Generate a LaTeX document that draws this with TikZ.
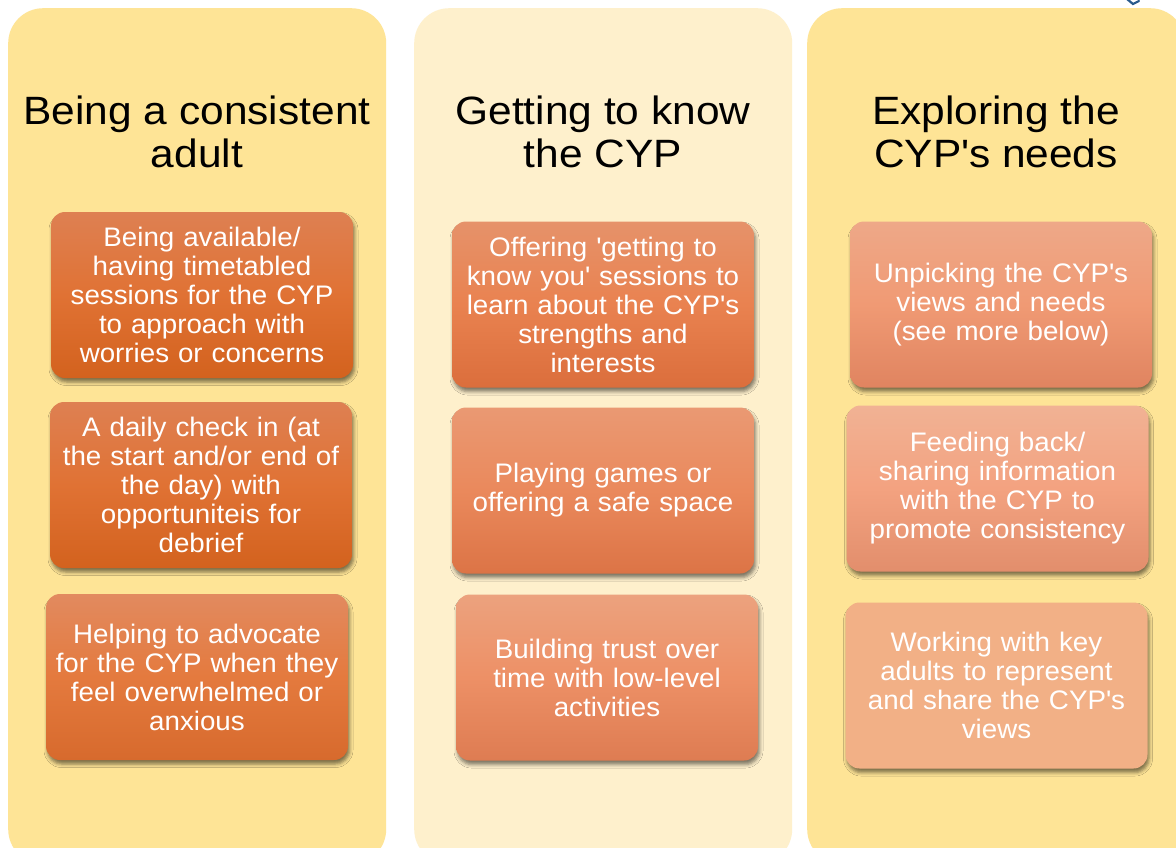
\documentclass[tikz,border=0pt]{standalone}
\usepackage{fontspec}
\setmainfont[FakeStretch=1.075]{Liberation Sans}
\newfontfamily\cardfont[FakeStretch=1.035]{Liberation Sans}
\usetikzlibrary{shadows.blur}

\definecolor{panelgold}{RGB}{254,228,150}
\definecolor{panelcream}{RGB}{254,240,204}
\definecolor{logoblue}{RGB}{40,90,140}

% straight apostrophe
\newcommand{\apos}{\textquotesingle}

\tikzset{
  panel/.style={rounded corners=35pt, anchor=north west, inner sep=0pt},
  heading/.style={font=\fontsize{39.5pt}{43pt}\selectfont, text=black, align=center},
  card/.style={rounded corners=14pt, minimum width=302pt, minimum height=166pt,
    text width=300pt, align=center, inner sep=0pt, text=white,
    font=\cardfont\fontsize{26.8pt}{29pt}\selectfont,
    blur shadow={shadow xshift=1.5pt, shadow yshift=-4pt, shadow blur radius=3.5pt, shadow opacity=50}},
  shadeA/.style={top color={rgb,255:red,222;green,128;blue,82}, bottom color={rgb,255:red,211;green,98;blue,30}, middle color={rgb,255:red,224;green,114;blue,52}},
  shadeB/.style={top color={rgb,255:red,226;green,138;blue,95}, bottom color={rgb,255:red,215;green,106;blue,45}, middle color={rgb,255:red,228;green,122;blue,62}},
  shadeC/.style={top color={rgb,255:red,230;green,146;blue,106}, bottom color={rgb,255:red,219;green,110;blue,60}, middle color={rgb,255:red,233;green,130;blue,80}},
  shadeD/.style={top color={rgb,255:red,234;green,153;blue,115}, bottom color={rgb,255:red,220;green,116;blue,70}, middle color={rgb,255:red,234;green,137;blue,92}},
  shadeE/.style={top color={rgb,255:red,236;green,162;blue,126}, bottom color={rgb,255:red,222;green,124;blue,82}, middle color={rgb,255:red,237;green,144;blue,102}},
  shadeF/.style={top color={rgb,255:red,238;green,168;blue,136}, bottom color={rgb,255:red,224;green,132;blue,96}, middle color={rgb,255:red,240;green,154;blue,116}},
  shadeG/.style={top color={rgb,255:red,241;green,178;blue,148}, bottom color={rgb,255:red,226;green,142;blue,108}, middle color={rgb,255:red,243;green,162;blue,128}},
  shadeH/.style={fill={rgb,255:red,242;green,176;blue,134}},
}

\begin{document}
\begin{tikzpicture}[x=1pt, y=-1pt]
  \useasboundingbox (0,0) rectangle (1176,847);
  \fill[white] (0,0) rectangle (1176,847);

  % corner of a logo above the page
  \draw[logoblue, line width=2.2pt, line cap=round] (1127,-1) -- (1133,4) -- (1139,1);

  % three background panels
  \node[panel, fill=panelgold,  minimum width=378pt, minimum height=856pt] (p1) at (8,8) {};
  \node[panel, fill=panelcream, minimum width=378pt, minimum height=856pt] (p2) at (414,8) {};
  \node[panel, fill=panelgold,  minimum width=378pt, minimum height=856pt] (p3) at (807,8) {};

  % panel headings
  \node[heading] (h1) at (197,132) {Being a consistent\\adult};
  \node[heading] (h2) at (603,132) {Getting to know\\the CYP};
  \node[heading] (h3) at (996,132) {Exploring the\\CYP\apos s needs};

  % first panel
  \node[card, shadeA] (a1) at (202,295) {Being available/\\having timetabled\\sessions for the CYP\\to approach with\\worries or concerns};
  \node[card, shadeA] (a2) at (201,485) {A daily check in (at\\the start and/or end of\\the day) with\\opportuniteis for\\debrief};
  \node[card, shadeB] (a3) at (197,677) {Helping to advocate\\for the CYP when they\\feel overwhelmed or\\anxious};

  % second panel
  \node[card, shadeC] (b1) at (603,304.5) {Offering \apos getting to\\know you\apos{} sessions to\\learn about the CYP\apos s\\strengths and\\interests};
  \node[card, shadeD] (b2) at (603,490.5) {Playing games or\\offering a safe space};
  \node[card, shadeE] (b3) at (607,677.5) {Building trust over\\time with low-level\\activities};

  % third panel
  \node[card, shadeF] (c1) at (1001,304.5) {Unpicking the CYP\apos s\\views and needs\\(see more below)};
  \node[card, shadeG] (c2) at (997.5,488.5) {Feeding back/\\sharing information\\with the CYP to\\promote consistency};
  \node[card, shadeH] (c3) at (996.5,685.5) {Working with key\\adults to represent\\and share the CYP\apos s\\views};
\end{tikzpicture}
\end{document}
